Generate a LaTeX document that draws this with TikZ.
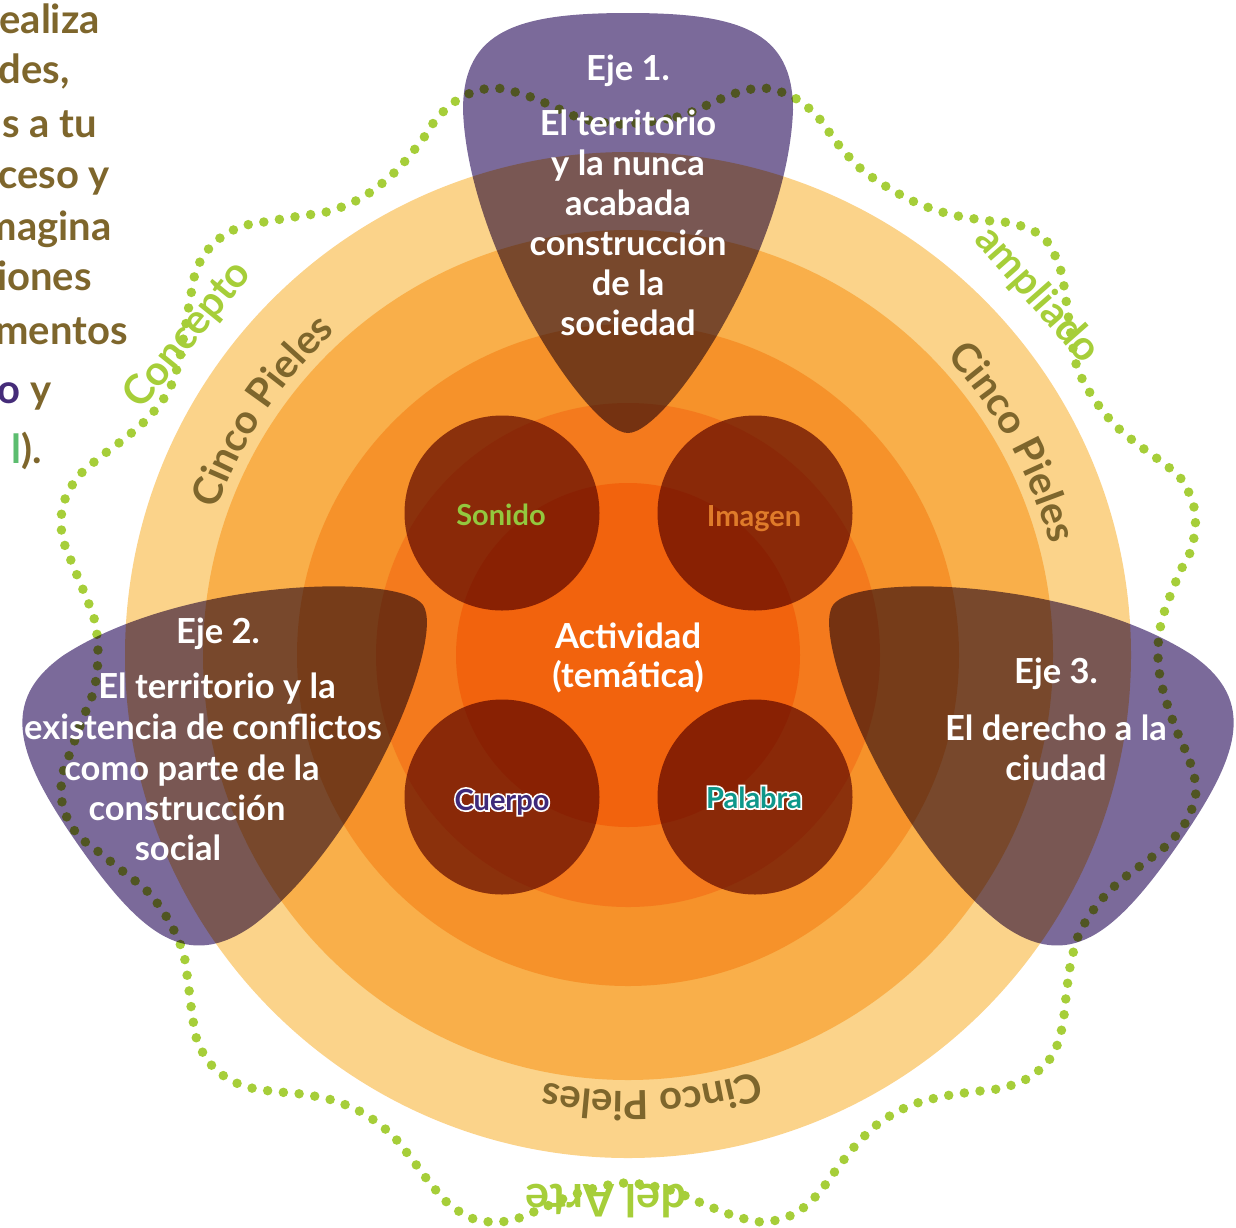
\documentclass[tikz,border=0pt]{standalone}
\usepackage{fontspec}
\setmainfont{Lato}
\usetikzlibrary{decorations.text}
\definecolor{bandA}{HTML}{FBD38A}
\definecolor{bandB}{HTML}{F9AF4A}
\definecolor{bandC}{HTML}{F6922A}
\definecolor{bandD}{HTML}{F47A1D}
\definecolor{bandE}{HTML}{F2630D}
\definecolor{darkdisc}{HTML}{91564A}
\definecolor{pickpurple}{HTML}{7B6A9A}
\definecolor{dotgreen}{HTML}{A6CE39}
\definecolor{olivetext}{HTML}{7E662C}
\definecolor{sonidogreen}{HTML}{93C83E}
\definecolor{imagenorange}{HTML}{DF7B2A}
\definecolor{cuerpopurple}{HTML}{3F2A7A}
\definecolor{palabrateal}{HTML}{0E978A}
\definecolor{mintgreen}{HTML}{5CBD6F}
\definecolor{deeppurple}{HTML}{452C79}
\newcommand\halotext[2]{\setbox0=\hbox{#2}%
\rlap{\color{white}\addfontfeatures{FakeBold=12}#2}%
\textcolor{#1}{\copy0}}
\newcommand\pielesfmt{\color{olivetext}\bfseries\fontsize{40}{40}\selectfont}
\newcommand\pickpath{(0,-420) .. controls (-110,-420) and (-165,-403) .. (-165,-323)
  .. controls (-160,-183) and (-40,0) .. (0,0)
  .. controls (40,0) and (160,-183) .. (165,-323)
  .. controls (165,-403) and (110,-420) .. (0,-420) -- cycle}
\tikzset{
  ejetext/.style={text=white, font=\bfseries\fontsize{34.5}{40}\selectfont, anchor=base, inner sep=0pt},
  disctext/.style={font=\bfseries\fontsize{29}{34}\selectfont, anchor=base, inner sep=0pt},
  greenlabel/.style={text=dotgreen, font=\bfseries\fontsize{41}{44}\selectfont, inner sep=0pt},
  sidetext/.style={text=olivetext, font=\bfseries\fontsize{40}{48}\selectfont, anchor=base east, inner sep=0pt},
  dotline/.style={draw=dotgreen, line width=9.5pt, line cap=round, dash pattern=on 0pt off 15.8pt},
  pielesarc/.style={decorate, decoration={text along path, text={|\pielesfmt|Cinco Pieles}, text align=center}}
}
\begin{document}
\begin{tikzpicture}[x=1pt,y=-1pt]
\useasboundingbox (0,0) rectangle (1236,1227);
\clip (0,0) rectangle (1236,1227);
\coordinate (c) at (628,655);
% concentric bands
\fill[bandA] (c) circle[radius=503];
\fill[bandB] (c) circle[radius=425];
\fill[bandC] (c) circle[radius=331];
\fill[bandD] (c) circle[radius=252];
\fill[bandE] (c) circle[radius=172];
% dark discs
\begin{scope}[blend mode=multiply]
  \fill[darkdisc] (502,513) circle[radius=97.5];
  \fill[darkdisc] (755,513) circle[radius=97.5];
  \fill[darkdisc] (502,797) circle[radius=97.5];
  \fill[darkdisc] (755,797) circle[radius=97.5];
\end{scope}
% dotted wavy loop
\draw[dotline] plot[smooth cycle, tension=0.55] coordinates {
(628,124) (677,117) (705,106) (733,94) (763,88) (793,97) (817,116) (837,143) (860,168)
(887,187) (917,203) (949,214) (982,220) (1015,224) (1044,238) (1060,268) (1066,300)
(1071,335) (1077,367) (1092,396) (1113,423) (1136,443) (1159,460) (1182,480) (1195,512)
(1192,547) (1179,574) (1163,616) (1158,647) (1160,677) (1168,707) (1178,734) (1190,762)
(1196,791) (1187,820) (1168,844) (1144,863) (1119,882) (1097,905) (1079,934) (1070,967)
(1066,997) (1062,1028) (1052,1056) (1030,1077) (1002,1088) (971,1092) (940,1097)
(909,1106) (879,1123) (855,1146) (836,1170) (817,1195) (794,1214) (764,1222) (735,1216)
(706,1205) (670,1190) (628,1183) (595,1188) (565,1198) (536,1211) (508,1221) (477,1220)
(450,1205) (430,1183) (411,1158) (391,1134) (363,1113) (332,1100) (301,1094) (270,1091)
(241,1085) (215,1069) (198,1043) (192,1013) (188,982) (183,952) (169,921) (149,893)
(125,873) (100,853) (77,834) (63,807) (62,777) (72,748) (83,718) (94,690) (98,656)
(95,622) (84,592) (72,563) (62,535) (63,505) (77,478) (99,458) (124,439) (148,418)
(168,392) (178,365) (184,335) (190,300) (197,268) (214,243) (240,227) (270,221)
(300,216) (330,211) (363,197) (395,172) (422,140) (438,117) (462,97) (492,88) (522,94)
(550,105) (577,117) (600,122)};
% the three axes (multiply)
\begin{scope}[blend mode=multiply]
  \begin{scope}[shift={(628,433)}]
    \fill[pickpurple] \pickpath;
  \end{scope}
  \begin{scope}[shift={(423,605)}, rotate=125]
    \fill[pickpurple] \pickpath;
  \end{scope}
  \begin{scope}[shift={(833,605)}, rotate=-125]
    \fill[pickpurple] \pickpath;
  \end{scope}
\end{scope}
% Cinco Pieles along arcs
\path[pielesarc] (c) ++(-171.3:436) arc[start angle=-171.3, end angle=-121.3, radius=436];
\path[pielesarc] (c) ++(-53.9:436) arc[start angle=-53.9, end angle=-3.9, radius=436];
\path[pielesarc] (c) ++(61.9:436) arc[start angle=61.9, end angle=111.9, radius=436];
% green labels
\node[greenlabel, rotate=51] (concepto) at (188,335) {Concepto};
\node[greenlabel, rotate=-48.6] (ampliado) at (1037,295) {ampliado};
\node[greenlabel, rotate=180, font=\bfseries\fontsize{45}{48}\selectfont] (delarte) at (606,1201) {del Arte};
% Eje 1
\node[ejetext] (e1h) at (628,80) {Eje 1.};
\node[ejetext] (e1a) at (628,135) {El territorio};
\node[ejetext] (e1b) at (628,175) {y la nunca};
\node[ejetext] (e1c) at (628,215) {acabada};
\node[ejetext] (e1d) at (628,255) {construcción};
\node[ejetext] (e1e) at (628,295) {de la};
\node[ejetext] (e1f) at (628,335) {sociedad};
% Eje 2
\node[ejetext] (e2h) at (218,643) {Eje 2.};
\node[ejetext] (e2a) at (217,698) {El territorio y la};
\node[ejetext] (e2b) at (203,739) {existencia de conflictos};
\node[ejetext] (e2c) at (192,780) {como parte de la};
\node[ejetext] (e2d) at (187,820) {construcción};
\node[ejetext] (e2e) at (178,860) {social};
% Eje 3
\node[ejetext] (e3h) at (1056,683) {Eje 3.};
\node[ejetext] (e3a) at (1056,740) {El derecho a la};
\node[ejetext] (e3b) at (1056,780) {ciudad};
% centre
\node[ejetext] (act1) at (628,648) {Actividad};
\node[ejetext] (act2) at (628,687) {(temática)};
% disc labels
\node[disctext, text=sonidogreen] (sonido) at (501,525) {Sonido};
\node[disctext, text=imagenorange] (imagen) at (754,526) {Imagen};
\node[disctext] (cuerpo) at (502,810) {\halotext{cuerpopurple}{Cuerpo}};
\node[disctext] (palabra) at (754,808) {\halotext{palabrateal}{Palabra}};
% cut-off text at the left edge
\node[sidetext] (s1) at (100,33) {ealiza};
\node[sidetext] (s2) at (70,83) {des,};
\node[sidetext] (s3) at (97,137) {s a tu};
\node[sidetext] (s4) at (110,188) {ceso y};
\node[sidetext] (s5) at (112,240) {magina};
\node[sidetext] (s6) at (92,290) {iones};
\node[sidetext] (s7) at (128,344) {mentos};
\node[sidetext] (s8) at (52,403) {\textcolor{deeppurple}{o} y};
\node[sidetext] (s9) at (42,463) {\textcolor{mintgreen}{l}).};
\end{tikzpicture}
\end{document}
